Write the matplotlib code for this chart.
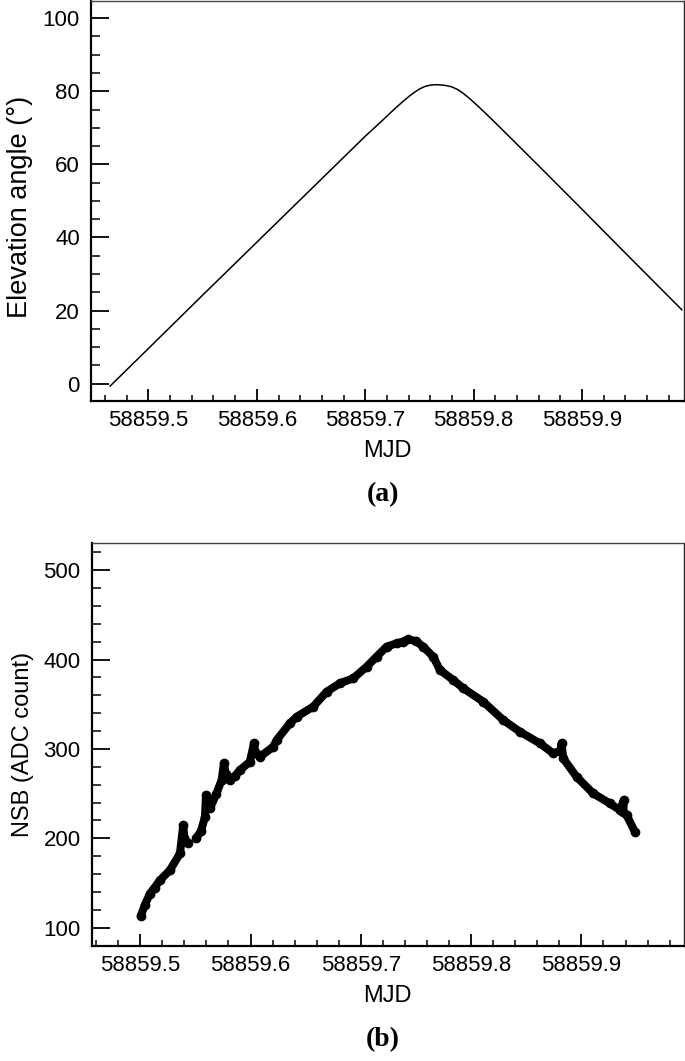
import numpy as np
import matplotlib
matplotlib.use("Agg")
import matplotlib.pyplot as plt
from matplotlib.ticker import MultipleLocator, FormatStrFormatter

plt.rcParams["font.family"] = ["Liberation Sans", "DejaVu Sans"]

# (a) elevation angle of the source vs MJD
elev_mjd = [58859.4646, 58859.50, 58859.55, 58859.60, 58859.65, 58859.70, 58859.715,
            58859.720, 58859.725, 58859.730, 58859.735, 58859.740, 58859.745, 58859.750,
            58859.755, 58859.760, 58859.7655, 58859.771, 58859.775, 58859.780, 58859.785,
            58859.790, 58859.795, 58859.800, 58859.805, 58859.810, 58859.815, 58859.820,
            58859.83, 58859.86, 58859.90, 58859.94, 58859.992]
elev_deg = [-0.7, 9.6, 24.2, 38.7, 53.2, 67.7, 71.8,
            73.2, 74.6, 75.96, 77.27, 78.52, 79.66, 80.62,
            81.32, 81.69, 81.82, 81.72, 81.55, 81.2, 80.5,
            79.52, 78.33, 77.03, 75.67, 74.26, 72.83, 71.38,
            68.45, 59.6, 47.7, 35.7, 20.2]

# (b) night sky background vs MJD (nan marks the data gap)
nsb_mjd = [58859.5004, 58859.5040, 58859.5088, 58859.5130, 58859.5179, 58859.5269,
           58859.5360, 58859.5390, 58859.5400, 58859.5435, 58859.5470, 58859.5505,
           58859.5550, 58859.5587, 58859.5596, 58859.5610, 58859.5632, 58859.5690,
           58859.5738, 58859.5759, 58859.5775, 58859.5813, 58859.5860, 58859.5904,
           58859.5994, 58859.6031, 58859.6045, 58859.6085, 58859.6206, 58859.6237,
           58859.6357, 58859.6418, 58859.6568, 58859.6690, 58859.6810, 58859.6931,
           58859.7053, 58859.7143, 58859.7234, 58859.7325, 58859.7380, 58859.7430,
           58859.7500, 58859.7566, 58859.7656, 58859.7717, 58859.7838, 58859.7929,
           58859.8110, 58859.8291, 58859.8442, 58859.8624, 58859.8744, 58859.8810,
           58859.8820, 58859.8835, 58859.8956, 58859.9107, 58859.9258, 58859.9349,
           58859.9385, 58859.9380, 58859.9410, 58859.9485]
nsb_adc = [112.9, 125.0, 138.3, 145.0, 153.2, 164.4,
           183.1, 214.8, 200.0, 194.3, np.nan, 199.9,
           208.0, 224.0, 248.4, 238.0, 233.5, 250.0,
           265.2, 283.9, 272.0, 265.2, 270.0, 276.4,
           285.7, 306.3, 295.0, 291.3, 302.5, 310.0,
           328.7, 336.0, 347.3, 364.0, 373.5, 379.0,
           392.0, 403.3, 414.4, 418.2, 420.0, 422.7,
           420.5, 414.4, 403.3, 388.4, 377.1, 367.9,
           352.9, 332.4, 319.3, 306.3, 295.1, 298.0,
           306.3, 289.5, 268.9, 250.3, 239.1, 231.6,
           242.8, 230.0, 226.0, 207.3]


def style_axes(ax, ymajor, yminor):
    ax.xaxis.set_major_locator(MultipleLocator(0.1))
    ax.xaxis.set_minor_locator(MultipleLocator(0.02))
    ax.xaxis.set_major_formatter(FormatStrFormatter("%.1f"))
    ax.yaxis.set_major_locator(MultipleLocator(ymajor))
    ax.yaxis.set_minor_locator(MultipleLocator(yminor))
    ax.tick_params(axis="both", which="both", direction="in", top=False, right=False,
                   labelsize=16, colors="black")
    ax.tick_params(axis="y", which="major", length=13, width=1.3, pad=8)
    ax.tick_params(axis="y", which="minor", length=6.5, width=1.1)
    ax.tick_params(axis="x", which="major", length=8.5, width=1.3, pad=7)
    ax.tick_params(axis="x", which="minor", length=4.3, width=1.1)
    ax.spines["left"].set_linewidth(1.6)
    ax.spines["bottom"].set_linewidth(1.6)
    ax.spines["top"].set_linewidth(1.0)
    ax.spines["right"].set_linewidth(1.0)
    ax.spines["top"].set_color("#444444")
    ax.spines["right"].set_color("#222222")


fig = plt.figure(figsize=(6.85, 10.61), dpi=100)

ax1 = fig.add_axes([0.1328, 0.6223, 0.8657, 0.3767])
ax1.plot(elev_mjd, elev_deg, color="black", linewidth=1.1)
ax1.set_xlim(58859.447, 58859.994)
ax1.set_ylim(-4.7, 104.7)
style_axes(ax1, 20, 5)
ax1.set_xlabel("MJD", fontsize=17, labelpad=6)
ax1.set_ylabel("Elevation angle (°)", fontsize=19.5, labelpad=7)
ax1.yaxis.label.set_y(0.485)
fig.text(0.559, 1 - 495 / 1061, "(a)", family=["Liberation Serif", "DejaVu Serif"],
         fontsize=20, fontweight="bold", ha="center", va="center")

ax2 = fig.add_axes([0.1339, 0.1087, 0.8646, 0.3792])
ax2.plot(nsb_mjd, nsb_adc, color="black", linewidth=5.8, marker="o", markersize=6,
         solid_capstyle="round", solid_joinstyle="round")
ax2.set_xlim(58859.456, 58859.993)
ax2.set_ylim(80, 530)
style_axes(ax2, 100, 20)
ax2.set_xlabel("MJD", fontsize=17, labelpad=6)
ax2.set_ylabel("NSB (ADC count)", fontsize=17, labelpad=7)
fig.text(0.559, 1 - 1040 / 1061, "(b)", family=["Liberation Serif", "DejaVu Serif"],
         fontsize=20, fontweight="bold", ha="center", va="center")

fig.savefig("out.png", dpi=100)
plt.close(fig)
